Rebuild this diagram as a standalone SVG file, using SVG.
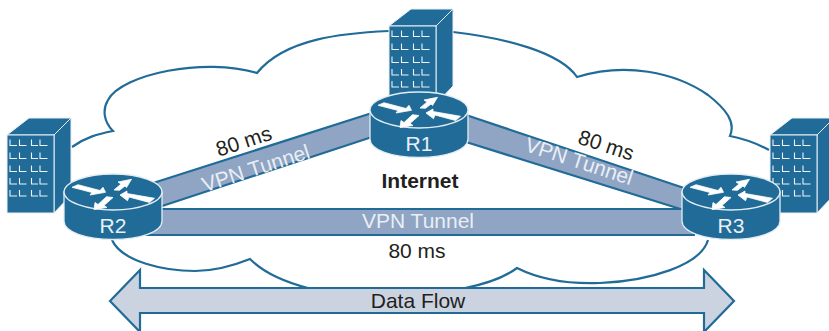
<svg xmlns="http://www.w3.org/2000/svg" width="829" height="331" viewBox="0 0 829 331">
<style>
.cloud{fill:none;stroke:#216b98;stroke-width:2.2;stroke-linejoin:miter}
.band{fill:#8fa5c3}
.edge{stroke:#216b98;stroke-width:2.2;fill:none}
.rim{fill:#216b98;stroke:#e4edf3;stroke-width:1.3}
.win{fill:none;stroke:#eef3f7;stroke-width:1.1}
.side{stroke:#e8eff4;stroke-width:1;fill:#216b98}
.arr{fill:#fff;stroke:#fff;stroke-width:0.8}
text{font-family:"Liberation Sans",Arial,sans-serif}
.lab{font-size:21px;fill:#231f20;text-anchor:middle}
.vpn{font-size:21px;fill:#e9eef5;text-anchor:middle}
.rt{font-size:21px;fill:#e9f0f5;text-anchor:middle}
</style>
<defs>
<g id="router">
<path class="rim" d="M-49,0V29C-49,40-27,47.500,0,47.500S49,40,49,29V0Z"/>
<ellipse class="rim" cx="0" cy="0" rx="49" ry="18"/>
<path class="arr" d="M-41,-4.700L-35,-7.300L-13,-1.500L-10,-4.700L-7.500,0.300L-23,3L-21,0.500Z"/>
<path class="arr" d="M1,-2L8,-8L5,-10L18.500,-12.700L13.500,-4.500L12,-6L6.500,-1.700Z"/>
<path class="arr" d="M-19,17.500L-18,10.500L-15,12.500L-6.500,4.700L0,5.500L-9,13.500L-6,15.500Z"/>
<path class="arr" d="M7,3L14,-1L14,1.500L41.500,6.300L36.500,10.500L16,5L14.500,8.700Z"/>
</g>
<path id="row" class="win" d="M3,4.500V10.500H10M12.500,4.500V10.500H19.500M24.500,4.500V10.500H31M33,4.500V10.500H40.500"/>
<g id="building">
<path class="side" d="M0,0L22,-17H64L47,0Z"/>
<path class="side" d="M47,0L64,-17V60L47,78Z"/>
<rect class="side" x="0" y="0" width="47" height="78"/>
<use href="#row"/><use href="#row" y="13"/><use href="#row" y="26"/><use href="#row" y="38.500"/><use href="#row" y="50.500"/>
</g>
</defs>

<g id="cloud">
<path class="cloud" d="M72,147C86,137 98,134 113,131C104,122 102,110 108,100C122,74 205,57 257,73C285,38 345,33 389,31"/>
<path class="cloud" d="M453,32C505,38 560,52 577,77C625,62 675,72 708,95C726,109 736,122 730,136C745,139 758,144 769,150"/>
<path class="cloud" d="M112,240C122,262 165,271 195,271C215,271 235,265 250,259C263,272 285,282 308,288"/>
<path class="cloud" d="M465,288C485,284 505,277 517,268C545,282 575,284 600,283C650,281 701,265 708,240"/>
</g>

<g id="connectors">
<path class="band" d="M150,184L372,113V137L150,210Z"/>
<path class="edge" d="M150,184L372,113M150,210L372,137"/>
<path class="band" d="M466,115L690,190V212L466,142Z"/>
<path class="edge" d="M466,115L690,190M466,142L690,212"/>
<rect class="band" x="145" y="209" width="550" height="26"/>
<path class="edge" d="M145,209H695M145,235H695"/>
</g>

<g id="server-left"><use href="#building" x="7" y="135"/></g>
<g id="server-top"><use href="#building" x="389" y="26"/></g>
<g id="server-right"><use href="#building" x="770" y="135"/></g>

<g id="r1"><use href="#router" x="419" y="110"/><text class="rt" x="419" y="151">R1</text></g>
<g id="r2"><use href="#router" x="113" y="192"/><text class="rt" x="113" y="233">R2</text></g>
<g id="r3"><use href="#router" x="731" y="192"/><text class="rt" x="731" y="233">R3</text></g>

<g id="labels">
<text class="lab" transform="translate(246,148) rotate(-18)">80 ms</text>
<text class="lab" transform="translate(604,152) rotate(18)">80 ms</text>
<text class="lab" x="417" y="258">80 ms</text>
<text class="vpn" transform="translate(258,175) rotate(-18)">VPN Tunnel</text>
<text class="vpn" transform="translate(577,168) rotate(18)">VPN Tunnel</text>
<text class="vpn" x="418" y="228">VPN Tunnel</text>
<text x="420" y="188" font-size="21" font-weight="bold" fill="#231f20" text-anchor="middle">Internet</text>
</g>

<g id="data-flow">
<path fill="#cbd3e0" stroke="#216b98" stroke-width="2.2" stroke-linejoin="miter" d="M110,301L140,270V288H704V270L734,301L704,332V313H140V332Z"/>
<text class="lab" x="418" y="308">Data Flow</text>
</g>
</svg>
